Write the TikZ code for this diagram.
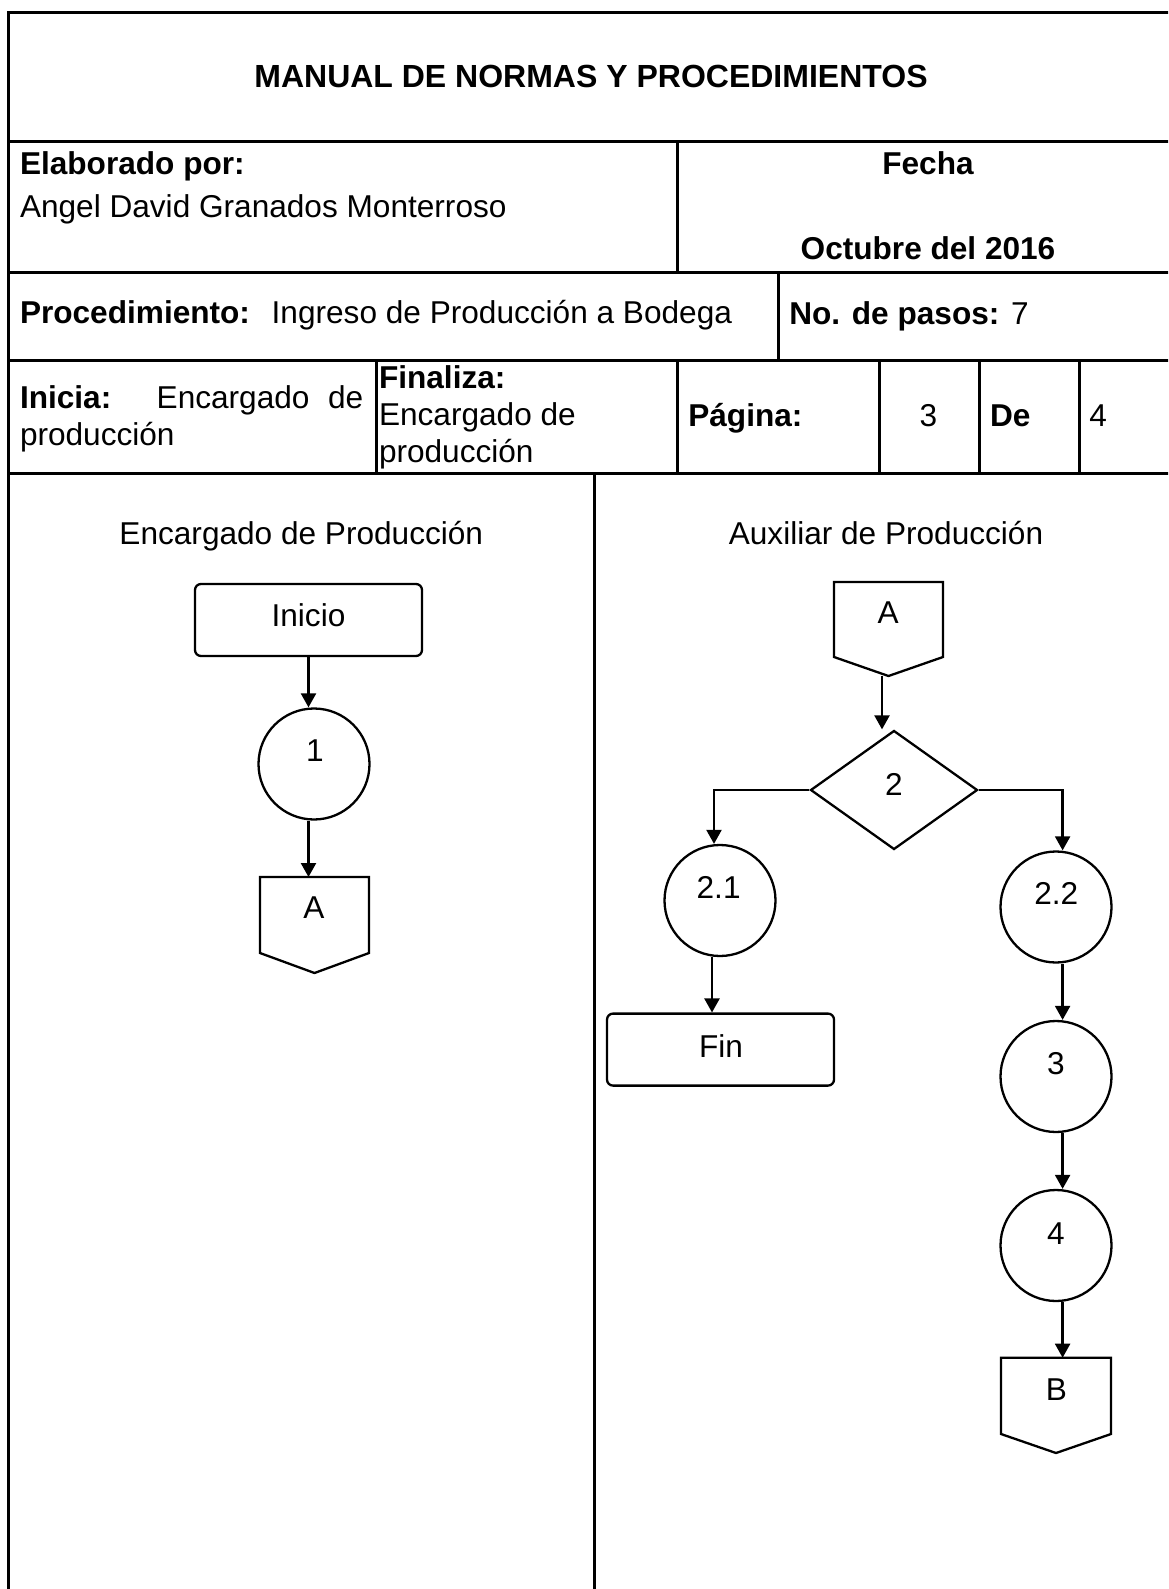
\documentclass[tikz,border=0pt]{standalone}
\usepackage{fontspec}
\setmainfont{Liberation Sans}
\usetikzlibrary{arrows.meta,shapes.geometric}
\newcommand\fsz{\fontsize{31.6pt}{31.6pt}\selectfont}
\newcommand\fszt{\fontsize{32pt}{32pt}\selectfont}
\begin{document}
\begin{tikzpicture}[x=1pt,y=-1pt,
  tline/.style={line width=3pt},
  shp/.style={draw, line width=2.3pt},
  term/.style={shp, rectangle, rounded corners=6pt, minimum width=227pt, minimum height=72pt, inner sep=0pt},
  proc/.style={shp, circle, minimum size=111pt, inner sep=0pt},
  dec/.style={shp, diamond, minimum width=167pt, minimum height=119pt, inner sep=0pt},
  offbox/.style={rectangle, inner sep=0pt, outer sep=0pt},
  txt/.style={inner sep=0pt, outer sep=0pt, font=\fsz},
  arr/.style={line width=2.3pt, -{Triangle[length=14pt,width=15pt]}}
]
\useasboundingbox (0,0) rectangle (1168,1589);
\clip (0,0) rectangle (1168,1589);
\fill[white] (0,0) rectangle (1168,1589);

% ---------- table frame ----------
\draw[tline] (8.5,1600) -- (8.5,12.5) -- (1180,12.5);
\foreach \yy in {141.7,272.7,360,473.3} \draw[tline] (8.5,\yy) -- (1180,\yy);
\draw[tline] (677.7,141.7) -- (677.7,272.7);
\draw[tline] (778.3,272.7) -- (778.3,360);
\foreach \xx in {376,677.7,879,979.3,1079.3} \draw[tline] (\xx,360) -- (\xx,473.3);
\draw[tline] (594,473.3) -- (594,1600);

% ---------- header texts ----------
\node[txt, font=\fszt\bfseries, anchor=base] (title) at (591,87.3) {MANUAL DE NORMAS Y PROCEDIMIENTOS};
\node[txt, font=\fsz\bfseries, anchor=base west] (elab) at (20,174.3) {Elaborado por:};
\node[txt, anchor=base west] (autor) at (20,217.3) {Angel David Granados Monterroso};
\node[txt, font=\fsz\bfseries, anchor=base] (fecha) at (928,174.3) {Fecha};
\node[txt, font=\fsz\bfseries, anchor=base] (fechav) at (928,259.5) {Octubre del 2016};
\node[txt, font=\fsz\bfseries, anchor=base west] (proc) at (20,323.5) {Procedimiento:};
\node[txt, anchor=base west] (procv) at (271.7,323.5) {Ingreso de Producción a Bodega};
\node[txt, anchor=base west] (pasos) at (789.3,324.5) {\textbf{No. de pasos:} 7};
\node[txt, font=\fsz\bfseries, anchor=base west] (ini) at (20,408.3) {Inicia:};
\node[txt, anchor=base west] (iniv1) at (156.7,408.3) {Encargado};
\node[txt, anchor=base east] (iniv2) at (363.3,408.3) {de};
\node[txt, anchor=base west] (iniv3) at (20,445) {producción};
\node[txt, font=\fsz\bfseries, anchor=base west] (fin) at (379,388.3) {Finaliza:};
\node[txt, anchor=base west] (finv1) at (379,425.5) {Encargado de};
\node[txt, anchor=base west] (finv2) at (379,462) {producción};
\node[txt, font=\fsz\bfseries, anchor=base west] (pag) at (688.3,426.7) {Página:};
\node[txt, anchor=base] (pagv) at (928.3,426.7) {3};
\node[txt, font=\fsz\bfseries, anchor=base west] (de) at (990,426.7) {De};
\node[txt, anchor=base west] (dev) at (1089.3,426.7) {4};

% ---------- lane titles ----------
\node[txt, anchor=base] (lane1) at (301.3,544.3) {Encargado de Producción};
\node[txt, anchor=base] (lane2) at (886,544.3) {Auxiliar de Producción};

% ---------- left lane ----------
\node[term] (inicio) at (308.5,620) {};
\node[txt, anchor=base] (inicioT) at (308.5,626.7) {Inicio};
\node[proc] (c1) at (314,764) {};
\node[txt, anchor=base] (c1T) at (315,761.7) {1};
\node[offbox, minimum width=109pt, minimum height=96pt] (oA1) at (314.5,925) {};
\draw[shp] (oA1.north west) -- (oA1.north east) -- ([yshift=20pt]oA1.south east) -- (oA1.south) -- ([yshift=20pt]oA1.south west) -- cycle;
\node[txt, anchor=base] (oA1T) at (314,918.3) {A};

\draw[arr] (inicio.south) -- (inicio.south |- c1.north);
\draw[arr] (c1.south -| inicio.south) -- (oA1.north -| inicio.south);

% ---------- right lane ----------
\node[offbox, minimum width=109pt, minimum height=94pt] (oA2) at (888.5,629) {};
\draw[shp] (oA2.north west) -- (oA2.north east) -- ([yshift=19pt]oA2.south east) -- (oA2.south) -- ([yshift=19pt]oA2.south west) -- cycle;
\node[txt, anchor=base] (oA2T) at (888.2,623.6) {A};

\node[dec] (dia) at (894,790) {};
\node[txt, anchor=base] (diaT) at (894,795.7) {2};

\node[proc] (c21) at (720,900.5) {};
\node[txt, anchor=base] (c21T) at (718.6,898.6) {2.1};
\node[term] (fine) at (720.5,1049.6) {};
\node[txt, anchor=base] (fineT) at (721,1057) {Fin};

\node[proc] (c22) at (1056,907) {};
\node[txt, anchor=base] (c22T) at (1056.2,904.6) {2.2};
\node[proc] (c3) at (1056,1076.5) {};
\node[txt, anchor=base] (c3T) at (1056,1074.3) {3};
\node[proc] (c4) at (1056,1245.5) {};
\node[txt, anchor=base] (c4T) at (1056,1244) {4};
\node[offbox, minimum width=110pt, minimum height=95.3pt] (oB) at (1056,1405.35) {};
\draw[shp] (oB.north west) -- (oB.north east) -- ([yshift=19pt]oB.south east) -- (oB.south) -- ([yshift=19pt]oB.south west) -- cycle;
\node[txt, anchor=base] (oBT) at (1056.5,1400) {B};

\coordinate (xa) at (882,0);
\draw[arr] (oA2.south -| xa) -- (dia.north -| xa);
\draw[arr] (dia.west) -| ([xshift=-6pt]c21.north);
\draw[arr] (dia.east) -| ([xshift=6.6pt]c22.north);
\draw[arr] ([xshift=-8pt]c21.south) -- ([xshift=-8pt]c21.south |- fine.north);
\draw[arr] ([xshift=6.6pt]c22.south) -- ([xshift=6.6pt]c3.north);
\draw[arr] ([xshift=6.6pt]c3.south) -- ([xshift=6.6pt]c4.north);
\draw[arr] ([xshift=6.6pt]c4.south) -- ([xshift=6.6pt]oB.north);
\end{tikzpicture}
\end{document}
